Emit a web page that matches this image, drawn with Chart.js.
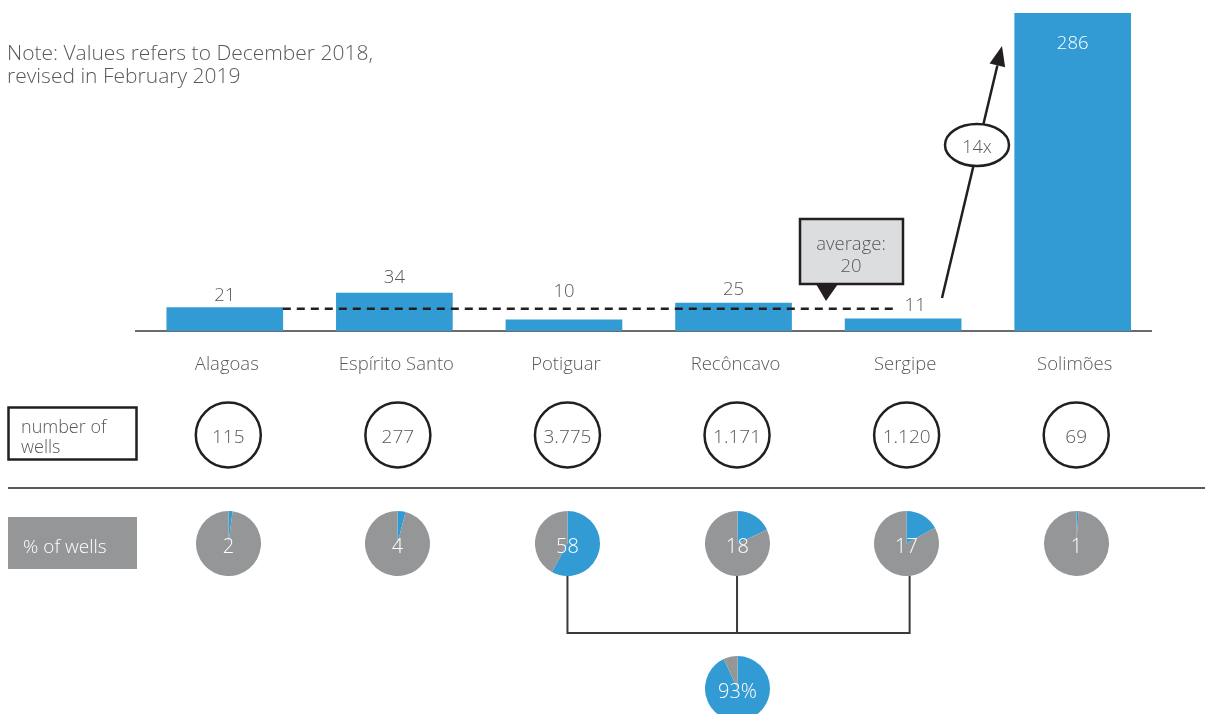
<!DOCTYPE html>
<html>
<head>
<meta charset="utf-8">
<script src="https://cdn.jsdelivr.net/npm/chart.js@4.4.1/dist/chart.umd.min.js"></script>
<style>
  html, body { margin: 0; padding: 0; background: #ffffff; overflow: hidden; }
  #wrap { position: relative; width: 1205px; height: 714px; overflow: hidden; }
  #main { position: absolute; left: 0; top: 0; }
  .pie { position: absolute; }
</style>
</head>
<body>
<div id="wrap">
  <canvas id="main" width="1205" height="714"></canvas>
</div>
<script>
// ---------- data ----------
const categories = ['Alagoas', 'Espírito Santo', 'Potiguar', 'Recôncavo', 'Sergipe', 'Solimões'];
const barValues = [21, 34, 10, 25, 11, 286];
const numberOfWells = ['115', '277', '3.775', '1.171', '1.120', '69'];
const pctOfWells = [2, 4, 58, 18, 17, 1];
const averageValue = 20;
const combinedPct = 93;
const multiplierLabel = '14x';
const noteLines = ['Note: Values refers to December 2018,', 'revised in February 2019'];

// ---------- style ----------
const BLUE = '#339bd3';
const GREY = '#959698';
const TEXT = '#58595b';
const DARK = '#231f20';
const FONT = '"Open Sans", Lato, sans-serif';
const labelOffsets = [12, 16, 29, 14, 14];   // value label distance above bar top (px)
const rowShift = 3.5;                         // circles / pies sit slightly right of bars
const circleY = 435, pieY = 543, R = 32.5;
const TY = 1.5;                               // vertical text nudge

function font(sz) { return '300 ' + sz + 'px ' + FONT; }

const drawPlugin = {
  id: 'infographic',
  beforeDatasetsDraw(chart) {
    const ctx = chart.ctx;
    const y0 = chart.scales.y.getPixelForValue(0);
    ctx.save();
    ctx.strokeStyle = '#3a3a3a';
    ctx.lineWidth = 1.5;
    ctx.beginPath();
    ctx.moveTo(135, y0);
    ctx.lineTo(1152, y0);
    ctx.stroke();
    ctx.restore();
  },
  afterDatasetsDraw(chart) {
    const ctx = chart.ctx;
    const xs = chart.scales.x, ys = chart.scales.y;
    const meta = chart.getDatasetMeta(0);
    ctx.save();

    // note
    ctx.fillStyle = TEXT;
    ctx.font = font(21);
    ctx.textAlign = 'left';
    ctx.textBaseline = 'middle';
    ctx.fillText(noteLines[0], 7, 53 + TY);
    ctx.fillText(noteLines[1], 7, 76 + TY);

    // average dashed line
    const yAvg = ys.getPixelForValue(averageValue);
    const b0 = meta.data[0];
    ctx.strokeStyle = DARK;
    ctx.lineWidth = 2.5;
    ctx.setLineDash([8, 6]);
    ctx.beginPath();
    ctx.moveTo(b0.x + b0.width / 2, yAvg);
    ctx.lineTo(898, yAvg);
    ctx.stroke();
    ctx.setLineDash([]);

    // value labels
    ctx.font = font(18.5);
    ctx.textAlign = 'center';
    ctx.textBaseline = 'middle';
    meta.data.forEach((bar, i) => {
      if (i < 5) {
        ctx.fillStyle = TEXT;
        const dx = (i === 4) ? 12 : 0;
        ctx.fillText(String(barValues[i]), bar.x + dx, bar.y - labelOffsets[i] - 1 + TY);
      } else {
        ctx.fillStyle = '#ffffff';
        ctx.fillText(String(barValues[i]), bar.x, bar.y + 29 + TY);
      }
    });

    // category labels
    ctx.fillStyle = TEXT;
    ctx.font = font(18.5);
    categories.forEach((c, i) => {
      ctx.fillText(c, xs.getPixelForValue(i) + 2, 363 + TY);
    });

    // callout "average: 20"
    ctx.fillStyle = '#dcdddf';
    ctx.fillRect(800, 219, 103, 65);
    ctx.strokeStyle = DARK;
    ctx.lineWidth = 2.5;
    ctx.strokeRect(800, 219, 103, 65);
    ctx.fillStyle = DARK;
    ctx.beginPath();
    ctx.moveTo(816, 284);
    ctx.lineTo(838, 284);
    ctx.lineTo(826, 301);
    ctx.closePath();
    ctx.fill();
    ctx.fillStyle = TEXT;
    ctx.font = font(18.5);
    ctx.fillText('average:', 851, 243 + TY);
    ctx.fillText(String(averageValue), 851, 265 + TY);

    // arrow to Solimões
    const ax0 = 942, ay0 = 298, ax1 = 1002, ay1 = 46;
    const ang = Math.atan2(ay1 - ay0, ax1 - ax0);
    const headLen = 20, headW = 8;
    const hx = ax1 - headLen * Math.cos(ang), hy = ay1 - headLen * Math.sin(ang);
    ctx.strokeStyle = DARK;
    ctx.lineWidth = 2.5;
    ctx.beginPath();
    ctx.moveTo(ax0, ay0);
    ctx.lineTo(hx, hy);
    ctx.stroke();
    ctx.fillStyle = DARK;
    ctx.beginPath();
    ctx.moveTo(ax1, ay1);
    ctx.lineTo(hx + headW * Math.sin(ang), hy - headW * Math.cos(ang));
    ctx.lineTo(hx - headW * Math.sin(ang), hy + headW * Math.cos(ang));
    ctx.closePath();
    ctx.fill();
    // ellipse 14x
    ctx.fillStyle = '#ffffff';
    ctx.beginPath();
    ctx.ellipse(977, 145, 32, 21, 0, 0, Math.PI * 2);
    ctx.fill();
    ctx.stroke();
    ctx.fillStyle = TEXT;
    ctx.font = font(18);
    ctx.fillText(multiplierLabel, 977, 146 + TY);

    // "number of wells" box
    ctx.strokeStyle = DARK;
    ctx.lineWidth = 2.5;
    ctx.strokeRect(8.5, 407.5, 128, 52);
    ctx.fillStyle = TEXT;
    ctx.textAlign = 'left';
    ctx.font = font(18);
    ctx.fillText('number of', 21, 426 + TY);
    ctx.fillText('wells', 21, 446 + TY);

    // number of wells circles
    ctx.textAlign = 'center';
    ctx.font = font(19);
    numberOfWells.forEach((v, i) => {
      const cx = xs.getPixelForValue(i) + rowShift;
      ctx.strokeStyle = DARK;
      ctx.lineWidth = 2.5;
      ctx.beginPath();
      ctx.arc(cx, circleY, R, 0, Math.PI * 2);
      ctx.stroke();
      ctx.fillStyle = TEXT;
      ctx.fillText(v, cx, circleY + 1 + TY);
    });

    // separator
    ctx.strokeStyle = '#58595b';
    ctx.lineWidth = 2;
    ctx.beginPath();
    ctx.moveTo(8, 488);
    ctx.lineTo(1205, 488);
    ctx.stroke();

    // "% of wells" box
    ctx.fillStyle = GREY;
    ctx.fillRect(8, 517, 129, 52);
    ctx.fillStyle = '#ffffff';
    ctx.textAlign = 'left';
    ctx.font = font(19);
    ctx.fillText('% of wells', 23, 546 + TY);

    // connectors
    const c2 = xs.getPixelForValue(2) + rowShift;
    const c3 = xs.getPixelForValue(3) + rowShift;
    const c4 = xs.getPixelForValue(4) + rowShift + 3;
    ctx.strokeStyle = '#3a3a3a';
    ctx.lineWidth = 2;
    ctx.beginPath();
    ctx.moveTo(c2, pieY + R);
    ctx.lineTo(c2, 633);
    ctx.lineTo(c4, 633);
    ctx.lineTo(c4, pieY + R);
    ctx.moveTo(c3, pieY + R);
    ctx.lineTo(c3, 633);
    ctx.stroke();

    ctx.restore();
  }
};

const mainChart = new Chart(document.getElementById('main'), {
  type: 'bar',
  data: {
    labels: categories,
    datasets: [{
      data: barValues,
      backgroundColor: BLUE,
      borderWidth: 0,
      barThickness: 116
    }]
  },
  options: {
    responsive: false,
    animation: false,
    devicePixelRatio: 1,
    layout: { padding: { left: 140, right: 47.5, top: 13, bottom: 383 } },
    scales: {
      x: { display: false },
      y: { display: false, min: 0, max: 286 }
    },
    plugins: { legend: { display: false }, tooltip: { enabled: false } }
  },
  plugins: [drawPlugin]
});

// ---------- pies ----------
const pieLabelPlugin = {
  id: 'pieLabel',
  afterDatasetsDraw(chart, args, opts) {
    const ctx = chart.ctx;
    ctx.save();
    ctx.fillStyle = '#ffffff';
    ctx.font = font(20);
    ctx.textAlign = 'center';
    ctx.textBaseline = 'middle';
    ctx.fillText(opts.text, chart.width / 2, chart.height / 2 + 2 + TY);
    ctx.restore();
  }
};

function makePie(cx, cy, pct, text) {
  const size = Math.round(R * 2);
  const c = document.createElement('canvas');
  c.className = 'pie';
  c.width = size; c.height = size;
  c.style.left = (cx - size / 2) + 'px';
  c.style.top = (cy - size / 2) + 'px';
  document.getElementById('wrap').appendChild(c);
  new Chart(c, {
    type: 'pie',
    data: {
      labels: ['share', 'rest'],
      datasets: [{ data: [pct, 100 - pct], backgroundColor: [BLUE, GREY], borderWidth: 0 }]
    },
    options: {
      responsive: false,
      animation: false,
      devicePixelRatio: 1,
      layout: { padding: 0 },
      plugins: { legend: { display: false }, tooltip: { enabled: false }, pieLabel: { text: text } }
    },
    plugins: [pieLabelPlugin]
  });
}

const xsc = mainChart.scales.x;
pctOfWells.forEach((p, i) => {
  makePie(xsc.getPixelForValue(i) + rowShift, pieY, p, String(p));
});
makePie(xsc.getPixelForValue(3) + rowShift, 688, combinedPct, combinedPct + '%');
</script>
</body>
</html>
